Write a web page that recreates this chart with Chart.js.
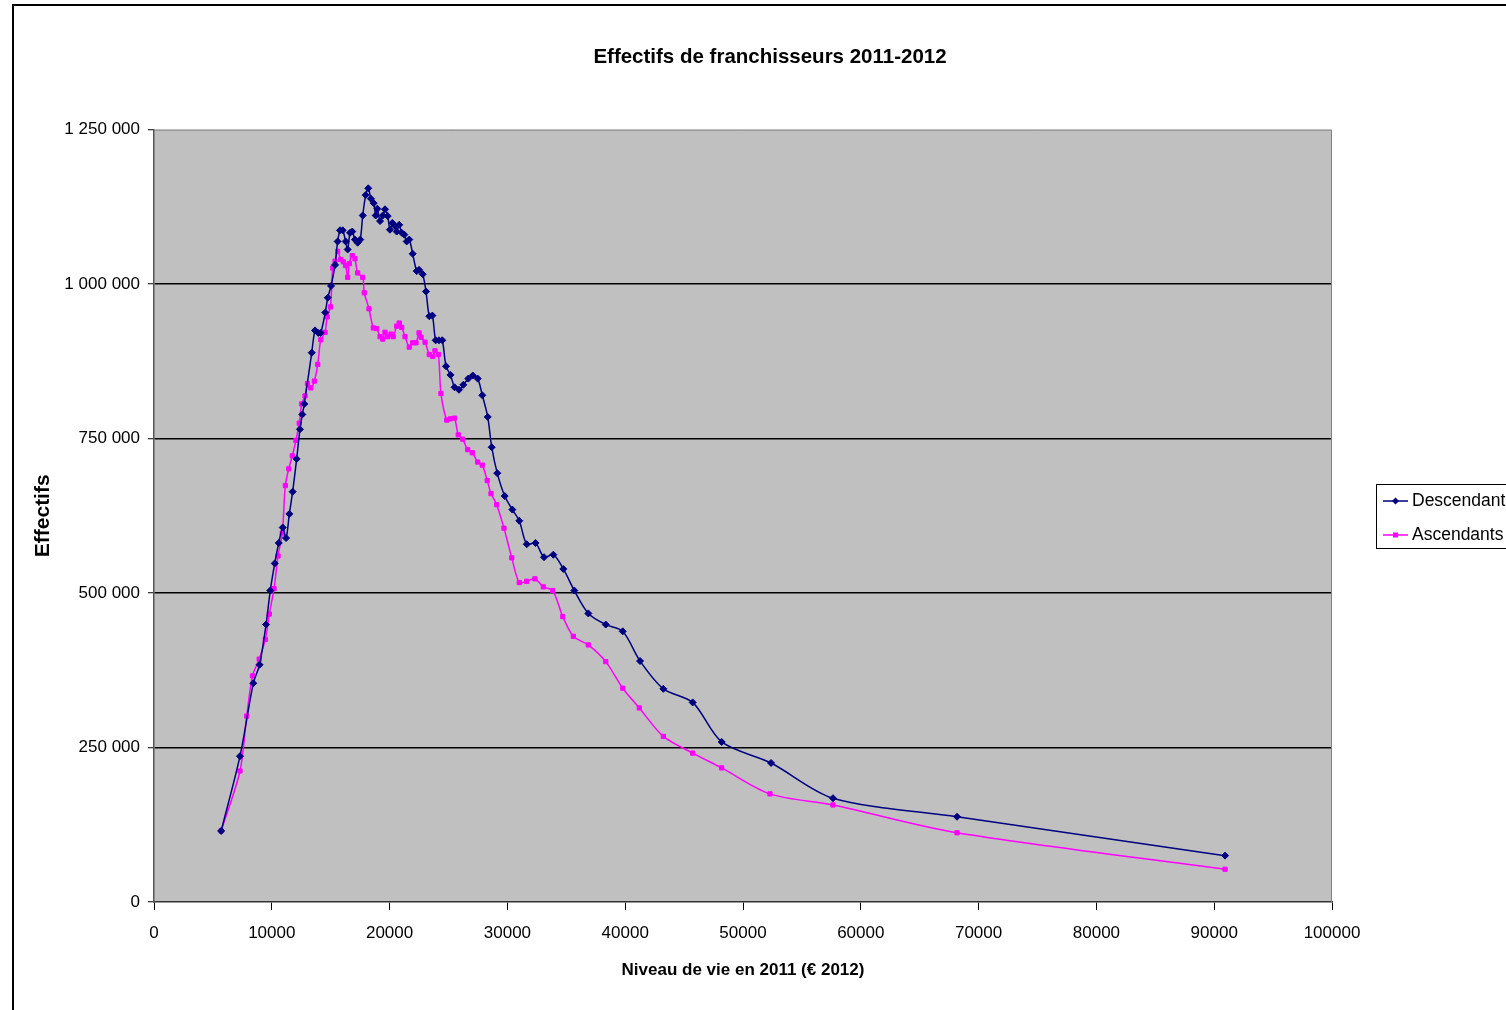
<!DOCTYPE html>
<html>
<head>
<meta charset="utf-8">
<script src="https://cdn.jsdelivr.net/npm/chart.js@4.4.1/dist/chart.umd.min.js"></script>
<style>
  html, body { margin: 0; padding: 0; overflow: hidden; background: #fff; }
  #wrap { width: 1506px; height: 1010px; overflow: hidden; }
</style>
</head>
<body>
<div id="wrap"><canvas id="chart" width="1530" height="1010"></canvas></div>
<script>
const SANS = "'Liberation Sans', Arial, sans-serif";

// Descendants (niveau de vie, effectifs)
const descX = [5700, 7300, 8430, 8960, 9510, 9870, 10250, 10590, 10930, 11210,
  11490, 11770, 12110, 12390, 12590, 12760, 13390, 13670, 13950, 14150,
  14540, 14750, 15030, 15370, 15590, 15790, 16020, 16270, 16440, 16640,
  16830, 17060, 17290, 17510, 17720, 17970, 18190, 18420, 18650, 18820,
  18960, 19190, 19420, 19610, 19840, 20030, 20230, 20460, 20600, 20820,
  21030, 21250, 21450, 21670, 21960, 22300, 22500, 22810, 23090, 23370,
  23630, 23910, 24190, 24470, 24790, 25170, 25510, 25890, 26260, 26680,
  27060, 27480, 27870, 28330, 28670, 29140, 29770, 30420, 31010, 31640,
  32390, 33110, 33900, 34750, 35680, 36870, 38350, 39790, 41260, 43240,
  45730, 48190, 52380, 57640, 68170, 90920];
const descY = [115000, 236000, 354000, 384000, 449000, 504000, 548000, 581000, 606000, 589000,
  628000, 664000, 717000, 765000, 789000, 806000, 889000, 925000, 921000, 921000,
  954000, 978000, 997000, 1031000, 1069000, 1087000, 1087000, 1069000, 1056000, 1083000,
  1085000, 1072000, 1067000, 1072000, 1111000, 1144000, 1155000, 1138000, 1131000, 1111000,
  1122000, 1102000, 1111000, 1121000, 1110000, 1088000, 1099000, 1094000, 1085000, 1096000,
  1083000, 1080000, 1069000, 1072000, 1049000, 1021000, 1023000, 1016000, 988000, 948000,
  949000, 909000, 909000, 909000, 867000, 853000, 833000, 829000, 837000, 847000,
  852000, 847000, 820000, 785000, 736000, 694000, 657000, 635000, 617000, 579000,
  581000, 558000, 562000, 539000, 504000, 467000, 449000, 438000, 390000, 345000,
  323000, 259000, 225000, 168000, 138000, 75000];

// Ascendants
const ascX = [5700, 7300, 7870, 8360, 8930, 9450, 9790, 10190, 10530, 10890,
  11150, 11440, 11740, 12050, 12330, 12540, 12820, 13030, 13310, 13610,
  13900, 14160, 14520, 14700, 14980, 15170, 15370, 15590, 15850, 16070,
  16270, 16440, 16580, 16830, 17060, 17290, 17720, 17850, 18250, 18620,
  18910, 19190, 19420, 19610, 19840, 20120, 20310, 20600, 20820, 21030,
  21310, 21670, 21960, 22240, 22500, 22670, 23010, 23370, 23660, 23850,
  24140, 24360, 24850, 25170, 25510, 25830, 26210, 26630, 27020, 27480,
  27870, 28290, 28610, 29090, 29710, 30370, 31010, 31640, 32340, 33050,
  33850, 34700, 35600, 36870, 38350, 39790, 41200, 43240, 45730, 48190,
  52290, 57640, 68170, 90920];
const ascY = [115000, 212000, 301000, 366000, 393000, 425000, 466000, 507000, 560000, 597000,
  674000, 701000, 722000, 747000, 775000, 806000, 819000, 839000, 832000, 843000,
  870000, 910000, 922000, 947000, 963000, 1026000, 1037000, 1053000, 1040000, 1036000,
  1030000, 1011000, 1033000, 1046000, 1041000, 1018000, 1011000, 986000, 960000, 929000,
  928000, 915000, 911000, 922000, 915000, 919000, 915000, 932000, 937000, 930000,
  915000, 898000, 905000, 905000, 921000, 914000, 906000, 886000, 883000, 892000,
  886000, 823000, 780000, 782000, 783000, 756000, 749000, 732000, 727000, 712000,
  707000, 682000, 661000, 643000, 605000, 557000, 517000, 519000, 523000, 510000,
  504000, 462000, 430000, 416000, 389000, 346000, 314000, 268000, 241000, 217000,
  175000, 157000, 112000, 53000];

const yTicks = [0, 250000, 500000, 750000, 1000000, 1250000];
const yTickLabels = ['0', '250 000', '500 000', '750 000', '1 000 000', '1 250 000'];
const xTickLabels = ['0', '10000', '20000', '30000', '40000', '50000',
  '60000', '70000', '80000', '90000', '100000'];

const toPoints = (xs, ys) => xs.map((x, i) => ({ x: x, y: ys[i] }));

const backdrop = {
  id: 'backdrop',
  beforeDraw(chart) {
    const { ctx, chartArea: a } = chart;
    ctx.save();
    ctx.fillStyle = '#fff';
    ctx.fillRect(0, 0, chart.width, chart.height);
    ctx.fillStyle = '#c0c0c0';
    ctx.fillRect(a.left, a.top, a.right - a.left, a.bottom - a.top);
    ctx.strokeStyle = '#000';
    ctx.lineWidth = 2;
    ctx.strokeRect(13, 5, chart.width + 50, chart.height + 50);
    ctx.restore();
  },
  beforeDatasetsDraw(chart) {
    const { ctx, chartArea: a } = chart;
    ctx.save();
    ctx.strokeStyle = '#808080';
    ctx.lineWidth = 1;
    ctx.beginPath();
    ctx.moveTo(a.left, a.top + 0.5);
    ctx.lineTo(a.right - 0.5, a.top + 0.5);
    ctx.lineTo(a.right - 0.5, a.bottom);
    ctx.stroke();
    ctx.restore();
  }
};

// legend box on the right, partly cut by the page edge like the original
const sideLegend = {
  id: 'sideLegend',
  afterDraw(chart) {
    const { ctx } = chart;
    ctx.save();
    ctx.fillStyle = '#fff';
    ctx.fillRect(1376.5, 484.5, 170, 64);
    ctx.strokeStyle = '#000';
    ctx.lineWidth = 1;
    ctx.strokeRect(1376.5, 484.5, 170, 64);
    chart.data.datasets.forEach((ds, i) => {
      const cy = 501 + i * 34;
      ctx.strokeStyle = ds.borderColor;
      ctx.lineWidth = 1.5;
      ctx.beginPath();
      ctx.moveTo(1383, cy);
      ctx.lineTo(1408, cy);
      ctx.stroke();
      ctx.fillStyle = ds.borderColor;
      ctx.beginPath();
      if (ds.pointStyle === 'rectRot') {
        ctx.moveTo(1395.5, cy - 3.5);
        ctx.lineTo(1399, cy);
        ctx.lineTo(1395.5, cy + 3.5);
        ctx.lineTo(1392, cy);
        ctx.closePath();
      } else {
        ctx.rect(1393, cy - 2.5, 5, 5);
      }
      ctx.fill();
      ctx.fillStyle = '#000';
      ctx.font = '17.5px ' + SANS;
      ctx.textBaseline = 'middle';
      ctx.fillText(ds.label, 1412, cy);
    });
    ctx.restore();
  }
};

new Chart(document.getElementById('chart'), {
  type: 'line',
  data: {
    datasets: [
      {
        label: 'Descendants',
        data: toPoints(descX, descY),
        borderColor: '#000080',
        backgroundColor: '#000080',
        pointBackgroundColor: '#000080',
        pointBorderColor: '#000080',
        borderWidth: 1.5,
        pointStyle: 'rectRot',
        pointRadius: 3.5,
        pointBorderWidth: 1,
        tension: 0.3
      },
      {
        label: 'Ascendants',
        data: toPoints(ascX, ascY),
        borderColor: '#ff00ff',
        backgroundColor: '#ff00ff',
        pointBackgroundColor: '#ff00ff',
        pointBorderColor: '#ff00ff',
        borderWidth: 1.5,
        pointStyle: 'rect',
        pointRadius: 3,
        pointBorderWidth: 1,
        tension: 0.3
      }
    ]
  },
  options: {
    responsive: false,
    animation: false,
    events: [],
    layout: { padding: { left: 12, right: 2, top: 0, bottom: 0 } },
    plugins: {
      legend: { display: false },
      tooltip: { enabled: false },
      title: {
        display: true,
        text: 'Effectifs de franchisseurs 2011-2012',
        color: '#000',
        font: { family: SANS, size: 20.5, weight: 'bold' },
        padding: { top: 45, bottom: 60 }
      }
    },
    scales: {
      x: {
        type: 'linear',
        min: 0,
        max: 100000,
        afterFit: (s) => { s.height = 108; },
        ticks: {
          stepSize: 10000,
          color: '#000',
          padding: 13,
          maxRotation: 0,
          font: { family: SANS, size: 17 },
          callback: (v, i) => xTickLabels[i]
        },
        grid: {
          drawOnChartArea: false,
          drawTicks: true,
          tickLength: 8,
          tickColor: '#000',
          tickWidth: 1
        },
        border: { color: '#333', width: 1.5 },
        title: {
          display: true,
          text: 'Niveau de vie en 2011 (€ 2012)',
          color: '#000',
          font: { family: SANS, size: 17, weight: 'bold' },
          padding: { top: 0, bottom: 29 }
        }
      },
      y: {
        type: 'linear',
        min: 0,
        max: 1250000,
        afterFit: (s) => { s.width = 142; },
        ticks: {
          stepSize: 250000,
          color: '#000',
          padding: 8,
          font: { family: SANS, size: 17 },
          callback: (v) => yTickLabels[yTicks.indexOf(v)]
        },
        grid: {
          color: (c) => (c.tick && (c.tick.value === 0 || c.tick.value === 1250000)) ? 'rgba(0,0,0,0)' : '#000',
          lineWidth: 1.5,
          drawTicks: true,
          tickLength: 6,
          tickColor: '#000',
          tickWidth: 1
        },
        border: { color: '#555', width: 1.5 },
        title: {
          display: true,
          text: 'Effectifs',
          color: '#000',
          font: { family: SANS, size: 21, weight: 'bold' },
          padding: { top: 19, bottom: 0 }
        }
      },
      side: {
        type: 'linear',
        position: 'right',
        display: true,
        afterFit: (s) => { s.width = 196; },
        ticks: { display: false },
        grid: { display: false },
        border: { display: false }
      }
    }
  },
  plugins: [backdrop, sideLegend]
});
</script>
</body>
</html>
